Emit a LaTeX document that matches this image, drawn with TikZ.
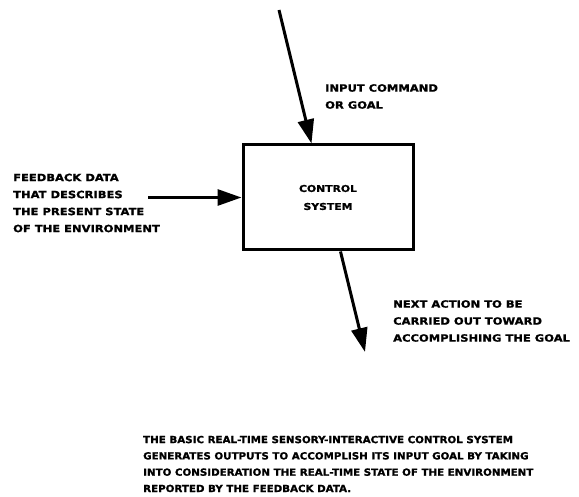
\documentclass[tikz,border=0pt]{standalone}
\usepackage{fontspec}
\usetikzlibrary{arrows.meta}
% heavy, widened lettering
\newfontfamily\letterfont{DejaVu Sans Bold}[FakeStretch=1.15, FakeBold=1.2]
\newfontfamily\captionfont{DejaVu Sans Bold}[FakeStretch=1.05, FakeBold=1.2]
\tikzset{
  lettering/.style={font=\letterfont\fontsize{10}{17}\selectfont, inner sep=0pt, align=left},
  captiontext/.style={font=\captionfont\fontsize{9.8}{16.3}\selectfont, inner sep=0pt, align=left},
  blockbox/.style={draw, line width=3pt, minimum width=170pt, minimum height=105pt, inner sep=0pt,
    font=\letterfont\fontsize{9.4}{18}\selectfont, align=center},
  flow/.style={line width=3pt, -{Triangle[length=24pt,width=16pt]}}
}
\begin{document}
\begin{tikzpicture}[x=1pt,y=-1pt]
\useasboundingbox (0,0) rectangle (579,497);

% central block
\node[blockbox] (cs) at (328,197.5) {CONTROL\\SYSTEM};

% free ends of the connectors
\coordinate (cmdstart) at (279,10);
\coordinate (fbstart) at (148,197.5);
\coordinate (actend) at (365,352);

% connectors
\draw[flow] (cmdstart) -- ([xshift=70pt]cs.north west);
\draw[flow] (fbstart) -- (cs.west);
\draw[flow] ([xshift=99pt]cs.south west) -- (actend);

% labels
\node[lettering, anchor=west] (cmdlabel) at (325,96.5) {INPUT COMMAND\\OR GOAL};
\node[lettering, anchor=west] (fblabel) at (13,203) {FEEDBACK DATA\\THAT DESCRIBES\\THE PRESENT STATE\\OF THE ENVIRONMENT};
\node[lettering, anchor=west] (actlabel) at (393,321) {NEXT ACTION TO BE\\CARRIED OUT TOWARD\\ACCOMPLISHING THE GOAL};

% caption
\node[captiontext, anchor=west] (caption) at (143,464) {THE BASIC REAL-TIME SENSORY-INTERACTIVE CONTROL SYSTEM\\GENERATES OUTPUTS TO ACCOMPLISH ITS INPUT GOAL BY TAKING\\INTO CONSIDERATION THE REAL-TIME STATE OF THE ENVIRONMENT\\REPORTED BY THE FEEDBACK DATA.};
\end{tikzpicture}
\end{document}
